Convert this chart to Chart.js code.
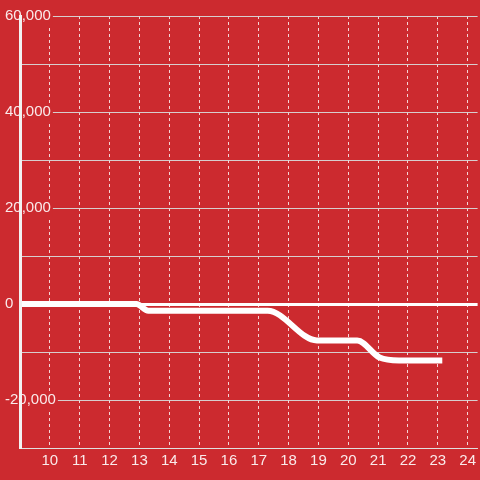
<!DOCTYPE html>
<html>
<head>
<meta charset="utf-8">
<style>
  html, body { margin: 0; padding: 0; background: #cc2a2f; }
  #wrap { width: 480px; height: 480px; }
</style>
<script src="https://cdn.jsdelivr.net/npm/chart.js@4.4.0/dist/chart.umd.min.js"></script>
</head>
<body>
<div id="wrap"><canvas id="c" width="480" height="480"></canvas></div>
<script>
// ---- data ----
const timeValues    = [8.9, 12.9, 13.3, 17.3, 18.95, 20.3, 21.05, 21.7, 23.15];
const balanceValues = [0, 0, -1400, -1400, -7600, -7600, -11150, -11750, -11750];
const xTicks = [10, 11, 12, 13, 14, 15, 16, 17, 18, 19, 20, 21, 22, 23, 24];
const yGridValues = [-30000, -20000, -10000, 0, 10000, 20000, 30000, 40000, 50000, 60000];
const yLabelValues = [60000, 40000, 20000, 0, -20000];

const points = timeValues.map((t, i) => ({ x: t, y: balanceValues[i] }));
const FONT = { family: 'Liberation Sans, Arial, sans-serif', size: 15 };
const TXT = 'rgba(255,255,255,0.9)';

new Chart(document.getElementById('c'), {
  type: 'line',
  data: {
    datasets: [{
      data: points,
      borderColor: '#ffffff',
      borderWidth: 6,
      pointRadius: 0,
      cubicInterpolationMode: 'monotone',
      fill: false
    }]
  },
  options: {
    responsive: false,
    animation: false,
    events: [],
    layout: { padding: { left: 4, top: 16, right: 0, bottom: 0 } },
    plugins: { legend: { display: false }, tooltip: { enabled: false } },
    scales: {
      x: {
        type: 'linear',
        min: 9,
        max: 9 + 460 / 30,
        afterBuildTicks: s => { s.ticks = xTicks.map(v => ({ value: v })); },
        afterFit: s => { s.height = 32; },
        grid: { color: 'rgba(255,255,255,0.8)', lineWidth: 1, drawTicks: false },
        border: { display: true, color: 'rgba(225,225,225,0.9)', width: 1, dash: [3, 3] },
        ticks: { color: TXT, font: FONT, padding: 4, maxRotation: 0, autoSkip: false,
                 callback: v => String(v) }
      },
      y: {
        type: 'linear',
        min: -30000,
        max: 60000,
        afterBuildTicks: s => { s.ticks = yGridValues.map(v => ({ value: v })); },
        afterFit: s => { s.width = 16; },
        grid: {
          drawTicks: false,
          color: ctx => (ctx.tick && ctx.tick.value === 0) ? '#ffffff' : 'rgba(215,215,215,0.95)',
          lineWidth: ctx => (ctx.tick && ctx.tick.value === 0) ? 3 : 1
        },
        border: { display: true, color: '#f2f2f2', width: 3, z: 1 },
        ticks: {
          color: TXT, font: FONT, autoSkip: false,
          mirror: true,
          crossAlign: 'near',
          padding: -15,
          showLabelBackdrop: true,
          backdropColor: '#cc2a2f',
          backdropPadding: { left: 0, right: 2, top: 0, bottom: 0 },
          callback: v => yLabelValues.includes(v) ? v.toLocaleString('en-US') : ''
        }
      }
    }
  }
});
</script>
</body>
</html>
